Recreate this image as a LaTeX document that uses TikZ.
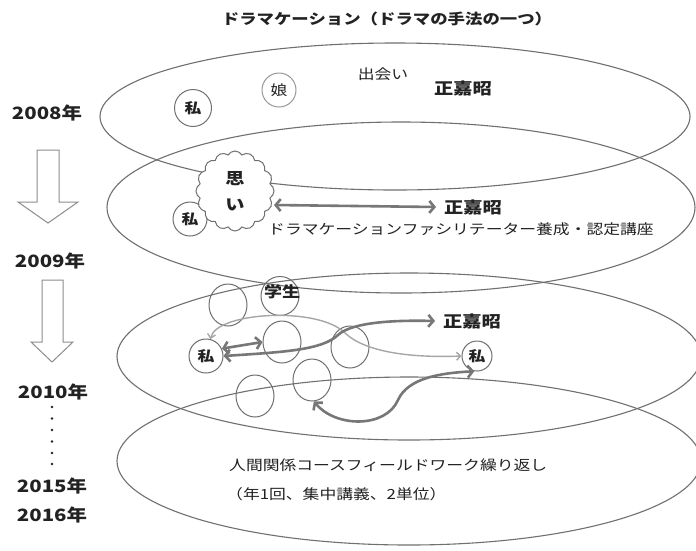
\documentclass[tikz,border=0pt]{standalone}
\usepackage{fontspec}
\setmainfont{Noto Sans CJK JP}[FakeStretch=1.2]
\usetikzlibrary{shapes.symbols,shapes.geometric,arrows.meta}
\definecolor{linegray}{HTML}{707070}
\definecolor{txt}{HTML}{222222}
\tikzset{
  ell/.style={draw=linegray,line width=1.1pt},
  pcirc/.style={circle,draw=linegray,line width=1pt,minimum size=34pt,inner sep=0pt,font=\bfseries\fontsize{14}{14}\selectfont,text=txt},
  ecirc/.style={ellipse,draw=linegray,line width=1pt,minimum width=38pt,minimum height=42pt,inner sep=0pt},
  lbl/.style={font=\fontsize{14}{16}\selectfont,text=txt,inner sep=0pt},
  pname/.style={font=\bfseries\fontsize{16}{16}\selectfont,text=txt,inner sep=0pt},
  yearlbl/.style={font=\bfseries\fontsize{17}{17}\selectfont,text=txt,inner sep=0pt},
  darr/.style={draw=linegray!95,line width=2.6pt,{Straight Barb[length=5pt,width=12pt]}-{Straight Barb[length=5pt,width=12pt]}},
  larr/.style={draw=black!35,line width=1.4pt,{Straight Barb[length=4pt,width=8pt]}-{Straight Barb[length=4pt,width=8pt]}},
  hollow/.style={draw=linegray!80,line width=1pt,fill=white}
}
\begin{document}
\begin{tikzpicture}[x=1pt,y=-1pt]
\useasboundingbox (0,0) rectangle (696,550);
\fill[white] (0,0) rectangle (696,550);
% title
\node[font=\bfseries\fontsize{14.5}{15}\selectfont,text=txt,inner sep=0pt] (title) at (387,19) {ドラマケーション（ドラマの手法の一つ）};
% ellipses
\draw[ell] (395,116.5) ellipse [x radius=295,y radius=73.5];
\draw[ell] (401,207.5) ellipse [x radius=294,y radius=85.5];
\draw[ell] (409,356.5) ellipse [x radius=292,y radius=83.5];
\draw[ell] (409,461) ellipse [x radius=292,y radius=84];
% years
\node[yearlbl] (y2008) at (47,113) {2008年};
\node[yearlbl] (y2009) at (50,261) {2009年};
\node[yearlbl] (y2010) at (53,392) {2010年};
\node[yearlbl] (y2015) at (52,486) {2015年};
\node[yearlbl] (y2016) at (52,515) {2016年};
% hollow arrows
\draw[hollow] (37,150) -- (59,150) -- (59,202) -- (78,202) -- (48,223) -- (18,202) -- (37,202) -- cycle;
\draw[hollow] (42,280) -- (63,280) -- (63,342) -- (73,342) -- (52,362) -- (31,342) -- (42,342) -- cycle;
% dots
\foreach \yy in {407,418.5,430,441.5,453,464} \fill[txt] (52,\yy) circle (1.4);
% 2008
\node[pcirc,minimum size=37pt] (w1) at (193,108) {私};
\node[pcirc,draw=black!40,font=\fontsize{14}{14}\selectfont,minimum size=34pt] (musume) at (279,90) {娘};
\node[lbl] (deai) at (383,74) {出会い};
\node[pname] (sei1) at (463,88) {正嘉昭};
% 2009
\node[pcirc] (w2) at (190,219) {私};
\node[cloud,cloud puffs=16,cloud puff arc=120,aspect=0.95,draw=linegray,line width=1pt,fill=white,minimum width=78pt,minimum height=80pt,inner sep=0pt,align=center,font=\bfseries\fontsize{16}{26}\selectfont,text=txt] (omoi) at (235,191) {思\\い};
\node[pname] (sei2) at (473,207) {正嘉昭};
\coordinate (c2a) at (274,205);
\coordinate (c2b) at ([xshift=-8pt]sei2.west);
\draw[darr] (c2a) -- (c2b);
\node[lbl,anchor=west] (course) at (268,229) {ドラマケーションファシリテーター養成・認定講座};
% 2010
\node[ecirc] (c1) at (228,305) {};
\node[ecirc,minimum width=38pt,minimum height=39pt] (gakusei) at (280,296) {};
\node[font=\bfseries\fontsize{15}{15}\selectfont,text=txt,inner sep=0pt] (gtext) at (282,292) {学生};
\node[ecirc] (c2) at (282,342) {};
\node[ecirc] (c3) at (350,347) {};
\node[ecirc] (c4) at (255,396) {};
\node[ecirc] (c5) at (312,380) {};
\node[pcirc] (wL) at (206,356) {私};
\node[pcirc,minimum size=30pt] (wR) at (477,356) {私};
\node[pname] (sei3) at (472,321) {正嘉昭};
\coordinate (s3) at ([xshift=-8pt]sei3.west);
% light arrow
\draw[larr] (wL.75) .. controls (216,312) and (318,306) .. (345,333) .. controls (365,352) and (410,358) .. (wR.west);
% dark arrows
\draw[darr] (wL.east) .. controls (285,352) and (322,350) .. (338,335) .. controls (352,322) and (395,320) .. (s3);
\draw[darr] (wL.25) -- (c2.west);
\draw[darr] (c5.-85) .. controls (336,428) and (386,428) .. (398,400) .. controls (408,378) and (440,373) .. (wR.-100);
% bottom text
\node[lbl,anchor=west] (ningen) at (229,465) {人間関係コースフィールドワーク繰り返し};
\node[lbl,anchor=west] (nen) at (226,494) {（年1回、集中講義、2単位）};
\end{tikzpicture}
\end{document}
